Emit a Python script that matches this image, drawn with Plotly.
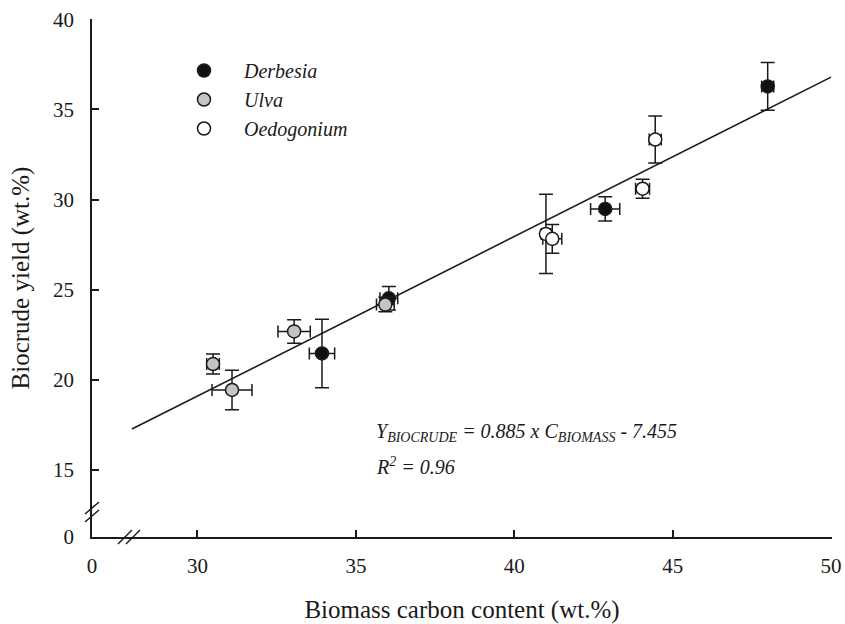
import plotly.graph_objects as go

# Biomass carbon content (wt.%) and biocrude yield (wt.%) with standard deviations
derbesia_x = [48.0, 42.87, 36.04, 33.93]
derbesia_y = [36.28, 29.48, 24.52, 21.46]
derbesia_xerr = [0.19, 0.46, 0.28, 0.40]
derbesia_yerr = [1.33, 0.67, 0.65, 1.90]

ulva_x = [35.93, 33.05, 30.49, 31.09]
ulva_y = [24.17, 22.68, 20.87, 19.43]
ulva_xerr = [0.28, 0.51, 0.20, 0.63]
ulva_yerr = [0.40, 0.65, 0.55, 1.10]

oedo_x = [44.45, 44.05, 41.00, 41.20]
oedo_y = [33.33, 30.60, 28.09, 27.82]
oedo_xerr = [0.19, 0.22, 0.15, 0.30]
oedo_yerr = [1.30, 0.53, 2.20, 0.80]

# Linear fit: Y = 0.885 * C - 7.455
slope = 0.885
intercept = -7.455
fit_x = [27.93, 50.0]

# Broken axes: the "0" label sits at the start of each axis
x_origin = 26.67
y_origin = 11.27
x_tickvals = [x_origin, 30, 35, 40, 45, 50]
x_ticktext = ["0", "30", "35", "40", "45", "50"]
y_tickvals = [y_origin, 15, 20, 25, 30, 35, 40]
y_ticktext = ["0", "15", "20", "25", "30", "35", "40"]

FONT = "Liberation Serif, Times New Roman, serif"
INK = "#1a1a1a"

fig = go.Figure()

fig.add_trace(go.Scatter(
    x=fit_x, y=[slope * v + intercept for v in fit_x],
    mode="lines", line=dict(color=INK, width=1.6),
    showlegend=False, hoverinfo="skip",
))


def series(name, xs, ys, xe, ye, fill):
    fig.add_trace(go.Scatter(
        x=xs, y=ys, mode="markers", name=name, showlegend=False,
        marker=dict(size=13, color=fill, line=dict(color=INK, width=1.5)),
        error_x=dict(type="data", array=xe, color=INK, thickness=1.5, width=6),
        error_y=dict(type="data", array=ye, color=INK, thickness=1.5, width=7),
    ))
    # legend entry
    fig.add_trace(go.Scatter(
        x=[None], y=[None], mode="markers", name="<i>" + name + "</i>",
        marker=dict(size=13, color=fill, line=dict(color=INK, width=1.5)),
    ))


series("Derbesia", derbesia_x, derbesia_y, derbesia_xerr, derbesia_yerr, "#111111")
series("Ulva", ulva_x, ulva_y, ulva_xerr, ulva_yerr, "#c4c4c4")
series("Oedogonium", oedo_x, oedo_y, oedo_xerr, oedo_yerr, "#ffffff")

W, H = 740.0, 518.0
shapes = []
# "//" break mark on the y axis
by = 1 - (512 - 19) / H
for d in (-4, 4):
    shapes.append(dict(type="line", xref="paper", yref="paper",
                       x0=(-7) / W, y0=by + (d - 6) / H,
                       x1=(7) / W, y1=by + (d + 6) / H,
                       line=dict(color=INK, width=1.5)))
# "//" break mark on the x axis
bx = (129 - 92) / W
for d in (-4, 4):
    shapes.append(dict(type="line", xref="paper", yref="paper",
                       x0=bx + (d - 7) / W, y0=-7 / H,
                       x1=bx + (d + 7) / W, y1=7 / H,
                       line=dict(color=INK, width=1.5)))

fig.update_layout(
    width=845, height=624,
    margin=dict(l=92, r=13, t=19, b=87, autoexpand=False),
    paper_bgcolor="white", plot_bgcolor="white",
    font=dict(family=FONT, size=21, color=INK),
    shapes=shapes,
    legend=dict(x=(164 - 92) / W, y=1 - (51 - 19) / H, xanchor="left", yanchor="top",
                bgcolor="rgba(0,0,0,0)", font=dict(size=20, family=FONT),
                itemwidth=70),
    xaxis=dict(range=[x_origin, 50.03], tickvals=x_tickvals, ticktext=x_ticktext,
               ticks="inside", ticklen=7, tickwidth=1.5, tickcolor=INK,
               showline=True, linecolor=INK, linewidth=1.5, showgrid=False,
               zeroline=False, ticklabelstandoff=9, automargin=False,
               title=dict(text="Biomass carbon content (wt.%)", standoff=24)),
    yaxis=dict(range=[y_origin, 40.02], tickvals=y_tickvals, ticktext=y_ticktext,
               ticks="inside", ticklen=7, tickwidth=1.5, tickcolor=INK,
               showline=True, linecolor=INK, linewidth=1.5, showgrid=False,
               zeroline=False, ticklabelstandoff=12, automargin=False,
               title=dict(text="Biocrude yield (wt.%)", standoff=16)),
    annotations=[
        dict(xref="paper", yref="paper", x=(374 - 92) / W, y=1 - (432 - 19) / H,
             xanchor="left", yanchor="middle", showarrow=False,
             text="<i>Y<sub>BIOCRUDE</sub> = 0.885 x C<sub>BIOMASS</sub> - 7.455</i>",
             font=dict(size=20)),
        dict(xref="paper", yref="paper", x=(374 - 92) / W, y=1 - (466 - 19) / H,
             xanchor="left", yanchor="middle", showarrow=False,
             text="<i>R<sup>2</sup> = 0.96</i>", font=dict(size=20)),
    ],
)

fig.write_html("out.html")
